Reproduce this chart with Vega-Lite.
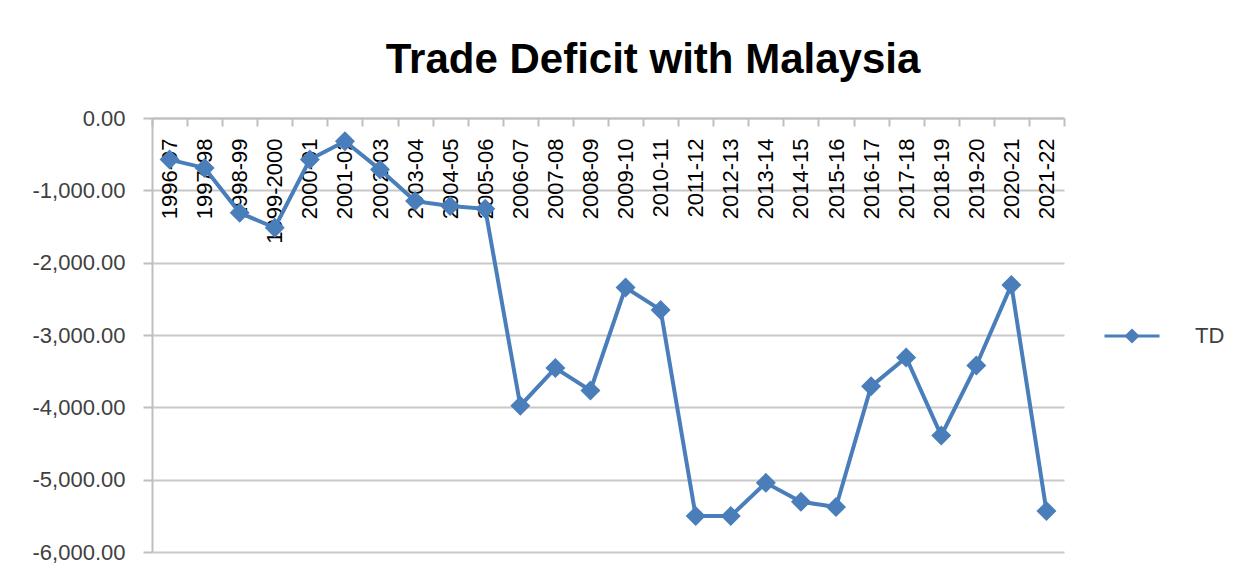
{
  "$schema": "https://vega.github.io/schema/vega-lite/v6.json",
  "width": 912,
  "height": 434,
  "autosize": {"type": "none"},
  "padding": {"left": 152, "top": 118, "right": 179, "bottom": 28},
  "background": "white",
  "config": {
    "locale": {"number": {"decimal": ".", "thousands": ",", "grouping": [3], "currency": ["$", ""], "minus": "-"}},
    "view": {"stroke": null},
    "font": "Liberation Sans"
  },
  "title": {
    "text": "Trade Deficit with Malaysia",
    "font": "Liberation Sans",
    "fontSize": 42,
    "fontWeight": "bold",
    "color": "#000000",
    "anchor": "middle",
    "dx": 45,
    "baseline": "alphabetic",
    "offset": -8
  },
  "data": {
    "values": [
      {"year": "1996-97", "TD": -575},
      {"year": "1997-98", "TD": -690},
      {"year": "1998-99", "TD": -1310},
      {"year": "1999-2000", "TD": -1517},
      {"year": "2000-01", "TD": -575},
      {"year": "2001-02", "TD": -322},
      {"year": "2002-03", "TD": -713},
      {"year": "2003-04", "TD": -1149},
      {"year": "2004-05", "TD": -1218},
      {"year": "2005-06", "TD": -1255},
      {"year": "2006-07", "TD": -3977},
      {"year": "2007-08", "TD": -3457},
      {"year": "2008-09", "TD": -3766},
      {"year": "2009-10", "TD": -2345},
      {"year": "2010-11", "TD": -2653},
      {"year": "2011-12", "TD": -5503},
      {"year": "2012-13", "TD": -5503},
      {"year": "2013-14", "TD": -5044},
      {"year": "2014-15", "TD": -5306},
      {"year": "2015-16", "TD": -5379},
      {"year": "2016-17", "TD": -3710},
      {"year": "2017-18", "TD": -3310},
      {"year": "2018-19", "TD": -4391},
      {"year": "2019-20", "TD": -3421},
      {"year": "2020-21", "TD": -2308},
      {"year": "2021-22", "TD": -5434}
    ]
  },
  "transform": [{"fold": ["TD"], "as": ["series", "value"]}],
  "mark": {
    "type": "line",
    "strokeWidth": 4,
    "point": {"shape": "diamond", "size": 400, "filled": true, "opacity": 1}
  },
  "encoding": {
    "x": {
      "field": "year",
      "type": "ordinal",
      "sort": null,
      "scale": {"paddingInner": 0, "paddingOuter": 0},
      "axis": {
        "orient": "top",
        "title": null,
        "labelAngle": -90,
        "labelAlign": "right",
        "labelBaseline": "middle",
        "labelPadding": -12,
        "labelFontSize": 22,
        "labelFont": "Liberation Sans",
        "labelColor": "#000000",
        "labelOverlap": false,
        "labelBound": false,
        "labelFlush": false,
        "tickBand": "extent",
        "tickSize": -8,
        "tickColor": "#BFBFBF",
        "tickWidth": 2,
        "domainColor": "#BFBFBF",
        "domainWidth": 2,
        "grid": false
      }
    },
    "y": {
      "field": "value",
      "type": "quantitative",
      "scale": {"domain": [-6000, 0], "nice": false, "zero": false},
      "axis": {
        "title": null,
        "values": [0, -1000, -2000, -3000, -4000, -5000, -6000],
        "format": ",.2f",
        "labelFontSize": 22,
        "labelFont": "Liberation Sans",
        "labelColor": "#404040",
        "labelPadding": 18,
        "tickSize": 9,
        "tickColor": "#BFBFBF",
        "tickWidth": 2,
        "domainColor": "#BFBFBF",
        "domainWidth": 2,
        "grid": true,
        "gridColor": "#C8C8C8",
        "gridWidth": 2
      }
    },
    "color": {
      "field": "series",
      "type": "nominal",
      "scale": {"range": ["#4A7EBB"]},
      "legend": {
        "title": null,
        "orient": "none",
        "legendX": 951,
        "legendY": 189,
        "padding": 0,
        "symbolType": "M-1,0L1,0M0,-0.2L0.2,0L0,0.2L-0.2,0Z",
        "symbolSize": 3025,
        "symbolStrokeWidth": 3,
        "symbolStrokeColor": "#4A7EBB",
        "symbolFillColor": "#4A7EBB",
        "symbolOpacity": 1,
        "labelOffset": 34,
        "labelFontSize": 22,
        "labelFont": "Liberation Sans",
        "labelColor": "#404040",
        "encode": {"symbols": {"update": {"fill": {"value": "#4A7EBB"}, "stroke": {"value": "#4A7EBB"}}}}
      }
    }
  }
}
